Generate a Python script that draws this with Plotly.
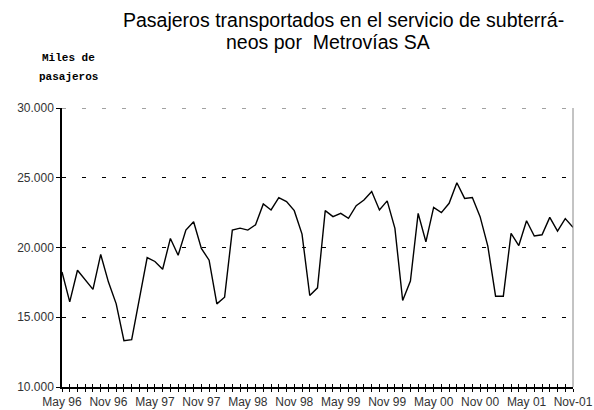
import plotly.graph_objects as go

months = [
    "May 96", "Jun 96", "Jul 96", "Ago 96", "Sep 96", "Oct 96", "Nov 96", "Dic 96",
    "Ene 97", "Feb 97", "Mar 97", "Abr 97", "May 97", "Jun 97", "Jul 97", "Ago 97",
    "Sep 97", "Oct 97", "Nov 97", "Dic 97", "Ene 98", "Feb 98", "Mar 98", "Abr 98",
    "May 98", "Jun 98", "Jul 98", "Ago 98", "Sep 98", "Oct 98", "Nov 98", "Dic 98",
    "Ene 99", "Feb 99", "Mar 99", "Abr 99", "May 99", "Jun 99", "Jul 99", "Ago 99",
    "Sep 99", "Oct 99", "Nov 99", "Dic 99", "Ene 00", "Feb 00", "Mar 00", "Abr 00",
    "May 00", "Jun 00", "Jul 00", "Ago 00", "Sep 00", "Oct 00", "Nov 00", "Dic 00",
    "Ene 01", "Feb 01", "Mar 01", "Abr 01", "May 01", "Jun 01", "Jul 01", "Ago 01",
    "Sep 01", "Oct 01", "Nov 01",
]

# miles de pasajeros
pasajeros = [
    18250, 16100, 18370, 17700, 17000, 19500, 17520, 15960, 13320, 13390,
    16200, 19280, 19000, 18440, 20650, 19450, 21250, 21850, 19930, 19090,
    15960, 16440, 21250, 21390, 21250, 21630, 23120, 22690, 23580, 23290,
    22640, 20960, 16560, 17110, 22640, 22210, 22450, 22090, 23000, 23400,
    24010, 22690, 23340, 21370, 16200, 17600, 22450, 20410, 22880, 22500,
    23170, 24640, 23520, 23580, 22210, 20100, 16510, 16510, 21010, 20140,
    21920, 20820, 20910, 22160, 21180, 22070, 21440,
]

x_labels = ["May 96", "Nov 96", "May 97", "Nov 97", "May 98", "Nov 98",
            "May 99", "Nov 99", "May 00", "Nov 00", "May 01", "Nov-01"]

y_ticks = [10000, 15000, 20000, 25000, 30000]

idx = list(range(len(months)))
ticktext = [""] * len(months)
for k, lab in enumerate(x_labels):
    ticktext[k * 6] = lab

fig = go.Figure()
fig.add_trace(go.Scatter(
    x=idx, y=pasajeros, mode="lines",
    line=dict(color="black", width=1.4),
    text=months, hovertemplate="%{text}: %{y:,}<extra></extra>",
    showlegend=False,
))
# invisible copy so the second (inside-tick) axis gets drawn
fig.add_trace(go.Scatter(
    x=idx, y=pasajeros, mode="lines", xaxis="x2",
    line=dict(color="rgba(0,0,0,0)", width=0),
    hoverinfo="skip", showlegend=False,
))

sans = "Liberation Sans, Arial, sans-serif"
mono = "Liberation Mono, Courier New, monospace"

fig.update_layout(
    width=594, height=410,
    margin=dict(l=62, r=21, t=108, b=23),
    paper_bgcolor="white", plot_bgcolor="white",
    separators=",.",
    xaxis=dict(
        range=[0, len(months) - 1], automargin=False,
        tickmode="array", tickvals=idx, ticktext=ticktext,
        ticks="outside", ticklen=3, tickwidth=1, tickcolor="black",
        showline=True, linecolor="black", linewidth=1.5,
        showgrid=False, zeroline=False,
        tickfont=dict(family=sans, size=12, color="#333"),
        tickangle=0,
    ),
    xaxis2=dict(
        overlaying="x", matches="x", anchor="y", side="bottom", automargin=False,
        tickmode="array", tickvals=idx, showticklabels=False,
        ticks="inside", ticklen=3, tickwidth=1, tickcolor="black",
        showline=False, showgrid=False, zeroline=False,
    ),
    yaxis=dict(
        range=[y_ticks[0], y_ticks[-1]], tickvals=y_ticks,
        tickformat=",d", automargin=False,
        ticks="outside", ticklen=4, tickcolor="black",
        showline=True, linecolor="black", linewidth=1.5,
        showgrid=True, gridcolor="black", gridwidth=1, griddash="4px,16px",
        zeroline=False,
        tickfont=dict(family=sans, size=12, color="#333"),
    ),
    shapes=[
        # grey frame on the right
        dict(type="line", xref="paper", yref="paper", x0=1, x1=1, y0=0, y1=1,
             line=dict(color="#888", width=1)),
        # dashed gridline at the top edge (plotly skips it at the range end)
        dict(type="line", xref="paper", yref="y", x0=0, x1=1,
             y0=y_ticks[-1], y1=y_ticks[-1],
             line=dict(color="#444", width=1, dash="4px,16px")),
    ],
)

title_lines = [
    ("Pasajeros transportados en el servicio de subterrá-", 343, 20),
    ("neos por  Metrovías SA", 328, 42),
]
for txt, px, py in title_lines:
    fig.add_annotation(
        text=txt, xref="paper", yref="paper",
        x=(px - 62) / 511, y=1, yshift=108 - py,
        xanchor="center", yanchor="middle", showarrow=False,
        font=dict(family=sans, size=19.5, color="black"),
    )

for txt, py in [("Miles de", 58), ("pasajeros", 77)]:
    fig.add_annotation(
        text="<b>" + txt + "</b>", xref="paper", yref="paper",
        x=(68 - 62) / 511, y=1, yshift=108 - py,
        xanchor="center", yanchor="middle", showarrow=False,
        font=dict(family=mono, size=11, color="black"),
    )

# drop the browser's default 8px body margin so the figure sits at the corner
fig.write_html(
    "out.html",
    config={"displayModeBar": False},
    post_script="document.body.style.margin = '0px';",
)
